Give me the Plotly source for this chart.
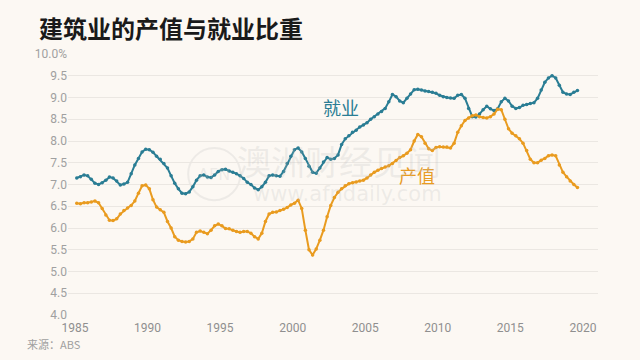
import plotly.graph_objects as go

# Quarterly data, 1985 Q1 .. 2019 Q3
start_year = 1985
employment = [
    7.15, 7.18, 7.22, 7.20,
    7.12, 7.03, 7.00, 7.04,
    7.10, 7.17, 7.15, 7.08,
    6.99, 7.01, 7.05, 7.25,
    7.45, 7.60, 7.75, 7.81,
    7.80, 7.74, 7.65, 7.58,
    7.48, 7.38, 7.20, 7.03,
    6.90, 6.80, 6.79, 6.83,
    6.95, 7.10, 7.20, 7.22,
    7.17, 7.16, 7.22, 7.30,
    7.34, 7.35, 7.31, 7.28,
    7.25, 7.20, 7.14, 7.05,
    7.00, 6.92, 6.88, 6.95,
    7.05, 7.20, 7.22, 7.20,
    7.19, 7.30, 7.48, 7.65,
    7.80, 7.84, 7.75, 7.60,
    7.42, 7.28, 7.26, 7.38,
    7.52, 7.62, 7.58, 7.60,
    7.68, 7.92, 8.05, 8.12,
    8.20, 8.25, 8.32, 8.37,
    8.42, 8.50, 8.56, 8.62,
    8.68, 8.75, 8.90, 9.07,
    9.02, 8.92, 8.88, 8.98,
    9.08, 9.18, 9.19, 9.17,
    9.15, 9.14, 9.12, 9.10,
    9.05, 9.02, 9.00, 8.99,
    8.98, 9.05, 9.07, 8.98,
    8.75, 8.56, 8.55, 8.62,
    8.72, 8.80, 8.74, 8.70,
    8.74, 8.90, 8.98, 8.92,
    8.80, 8.75, 8.77, 8.82,
    8.84, 8.86, 8.88, 8.98,
    9.17, 9.35, 9.45, 9.50,
    9.45, 9.28, 9.12, 9.08,
    9.07, 9.12, 9.16,
]
output = [
    6.57, 6.56, 6.58, 6.58,
    6.60, 6.62, 6.58, 6.45,
    6.30, 6.18, 6.17, 6.21,
    6.32, 6.40, 6.46, 6.52,
    6.62, 6.80, 6.97, 6.99,
    6.90, 6.65, 6.48, 6.42,
    6.36, 6.15, 6.00, 5.80,
    5.72, 5.69, 5.68, 5.69,
    5.75, 5.90, 5.93, 5.90,
    5.87, 5.95, 6.05, 6.09,
    6.05, 5.99, 5.98, 5.95,
    5.92, 5.90, 5.92, 5.92,
    5.88, 5.80, 5.75, 5.88,
    6.15, 6.32, 6.36, 6.37,
    6.40, 6.43, 6.47, 6.53,
    6.57, 6.64, 6.45, 5.95,
    5.50, 5.38, 5.52, 5.72,
    5.95, 6.26, 6.52, 6.70,
    6.82, 6.90, 6.97, 7.02,
    7.04, 7.06, 7.08, 7.10,
    7.15, 7.22, 7.28, 7.33,
    7.37, 7.40, 7.43, 7.48,
    7.55, 7.62, 7.66, 7.72,
    7.80, 8.00, 8.15, 8.10,
    7.95, 7.82, 7.78, 7.85,
    7.87, 7.86, 7.86, 7.84,
    7.95, 8.20, 8.35, 8.47,
    8.53, 8.58, 8.60, 8.56,
    8.54, 8.53, 8.56, 8.62,
    8.73, 8.72, 8.50, 8.28,
    8.18, 8.12, 8.05, 7.95,
    7.78, 7.58, 7.50, 7.50,
    7.56, 7.60, 7.66, 7.68,
    7.66, 7.45, 7.28, 7.18,
    7.08, 7.00, 6.93,
]
dates = [start_year + (i + 0.5) / 4 for i in range(len(employment))]

y_tick_vals = [4.0, 4.5, 5.0, 5.5, 6.0, 6.5, 7.0, 7.5, 8.0, 8.5, 9.0, 9.5, 10.0]
y_tick_text = ["4.0", "4.5", "5.0", "5.5", "6.0", "6.5", "7.0", "7.5", "8.0", "8.5", "9.0", "9.5", "10.0%"]
x_tick_vals = [1985, 1990, 1995, 2000, 2005, 2010, 2015, 2020]

BLUE = "#2a7d94"
ORANGE = "#e99b1f"
BG = "#fcf8f3"
FONT = "Noto Sans CJK SC"
WM = "rgba(185,185,185,0.22)"

fig = go.Figure()
fig.add_trace(go.Scatter(x=dates, y=employment, mode="lines+markers",
                         line=dict(color=BLUE, width=2), marker=dict(size=3.5, color=BLUE),
                         name="就业", showlegend=False, hoverinfo="skip"))
fig.add_trace(go.Scatter(x=dates, y=output, mode="lines+markers",
                         line=dict(color=ORANGE, width=2), marker=dict(size=3.5, color=ORANGE),
                         name="产值", showlegend=False, hoverinfo="skip"))

fig.update_layout(
    width=640, height=360,
    margin=dict(l=68, r=42, t=54, b=45, autoexpand=False),
    paper_bgcolor=BG, plot_bgcolor=BG,
    font=dict(family=FONT, color="#999999", size=12),
    xaxis=dict(range=[1984.52, 2021.04], tickvals=x_tick_vals, showgrid=False,
               zeroline=False, showline=False, ticks="", automargin=False,
               ticklabelstandoff=4,
               tickfont=dict(size=12, color="#8f8f8f", family="Roboto")),
    yaxis=dict(range=[4.0, 10.0], tickvals=y_tick_vals, ticktext=y_tick_text,
               showgrid=True, gridcolor="#ebe7e2", gridwidth=1, zeroline=False,
               showline=False, ticks="", automargin=False,
               tickfont=dict(size=12, color="#a0a0a0", family="Roboto")),
)

# Title
fig.add_annotation(text="<b>建筑业的产值与就业比重</b>", xref="paper", yref="paper",
                   x=-31/530, y=1 + 27/261, xanchor="left", yanchor="middle",
                   showarrow=False, font=dict(size=24, color="#1a1a1a", family=FONT))
# Source
fig.add_annotation(text="来源：ABS", xref="paper", yref="paper",
                   x=-43/530, y=-29/261, xanchor="left", yanchor="middle",
                   showarrow=False, font=dict(size=11, color="#a0a0a0", family=FONT))

# Series labels
fig.add_annotation(text="就业", x=2003.3, y=8.78, xanchor="center", yanchor="middle",
                   showarrow=False, font=dict(size=18, color=BLUE, family=FONT))
fig.add_annotation(text="产值", x=2008.55, y=7.22, xanchor="center", yanchor="middle",
                   showarrow=False, font=dict(size=18, color=ORANGE, family=FONT))

# Watermark
fig.add_annotation(text="澳洲财经见闻", x=2003.2, y=7.56, xanchor="center", yanchor="middle",
                   showarrow=False, font=dict(size=34, color=WM, family=FONT))
fig.add_annotation(text="www.afndaily.com", x=2003.8, y=6.78, xanchor="center", yanchor="middle",
                   showarrow=False, font=dict(size=21, color=WM, family="DejaVu Sans"))
fig.add_shape(type="circle", x0=1992.8, x1=1996.4, y0=6.64, y1=7.84,
              line=dict(color=WM, width=2), layer="below")
fig.add_annotation(text="AFN", x=1994.6, y=7.24, xanchor="center", yanchor="middle",
                   showarrow=False, font=dict(size=16, color=WM, family="DejaVu Sans"))

fig.write_html(
    "out.html",
    config={"displayModeBar": False},
    post_script="document.body.style.margin='0';document.body.style.background='#fcf8f3';",
)
